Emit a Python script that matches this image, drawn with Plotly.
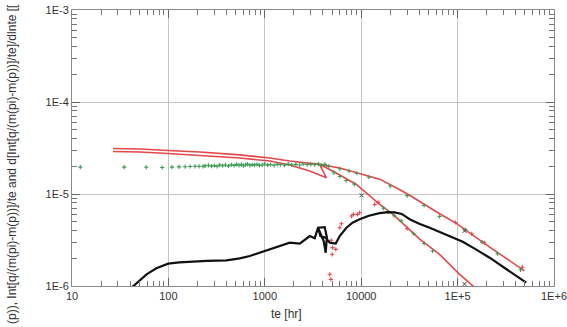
import plotly.graph_objects as go

# ---------------- data ----------------
# Normalized rate q/(m(pi)-m(p)) (black line)
rate_te = [42, 50, 59.4, 75, 99.5, 130, 181, 250, 401, 550, 700, 887, 1200, 1500, 1815, 2305, 2925,
           3296, 3565, 4185, 4424, 3778, 3565,
           4083, 4285, 4385, 4720, 5445, 5990, 7025, 8200, 9640, 12000, 15550, 19000, 22240, 26300,
           31840, 40000, 51300, 70000, 97000, 113000, 150000, 215000, 300000, 400000, 515000]
rate_val = [0.97e-6, 1.15e-6, 1.34e-6, 1.56e-6, 1.75e-6, 1.81e-6, 1.85e-6, 1.88e-6, 1.90e-6, 2.0e-6,
            2.12e-6, 2.30e-6, 2.55e-6, 2.78e-6, 2.96e-6, 2.89e-6, 3.49e-6,
            3.30e-6, 4.30e-6, 4.37e-6, 3.30e-6, 3.49e-6, 4.30e-6,
            3.08e-6, 2.30e-6, 3.24e-6, 2.96e-6, 2.89e-6, 3.49e-6, 4.30e-6, 4.9e-6, 5.31e-6, 5.8e-6,
            6.2e-6, 6.35e-6, 6.30e-6, 6.07e-6,
            5.31e-6, 4.75e-6, 4.30e-6, 3.75e-6, 3.22e-6, 3.02e-6, 2.55e-6, 2.03e-6, 1.6e-6, 1.3e-6, 1.09e-6]

# Rate integral Int[q/(m(pi)-m(p))]/te (red, upper)
int_te = [26.6, 50.7, 98.9, 212, 551, 1127, 1815, 3715, 5990, 8910, 15550, 22240, 31840, 65000,
          97000, 215000, 494000]
int_val = [3.12e-5, 3.08e-5, 2.97e-5, 2.86e-5, 2.66e-5, 2.46e-5, 2.28e-5, 2.10e-5, 1.92e-5, 1.71e-5,
           1.45e-5, 1.19e-5, 9.7e-6, 6.1e-6, 4.8e-6, 2.65e-6, 1.46e-6]

# Rate integral derivative (red, lower)
der_te = [26.6, 50.7, 98.9, 212, 551, 1127, 1815, 2925, 4355, 3715, 5070, 8910, 15550, 21400,
          40400, 65000, 105000, 153000]
der_val = [2.90e-5, 2.86e-5, 2.76e-5, 2.62e-5, 2.46e-5, 2.28e-5, 2.07e-5, 1.78e-5, 1.50e-5, 2.09e-5,
           1.78e-5, 1.27e-5, 7.7e-6, 6.0e-6, 3.24e-6, 2.21e-6, 1.34e-6, 0.95e-6]

# Green data points
green_te = [12.2, 34.8, 58.9, 86.3, 109, 129, 149, 168, 189, 208, 229,
            240, 260, 280, 300, 320, 340, 365, 390, 420, 450, 480, 510, 540, 570, 600, 630,
            660, 700, 740, 780, 830, 880, 940, 1000, 1070, 1150, 1250, 1350, 1450, 1600, 1750,
            1900, 2100, 2300, 2500, 2750, 3000, 3300, 3600, 3900, 4200, 4600,
            6000, 7500, 9000, 12000, 20000, 30000, 45000, 65000, 120000, 180000, 260000, 450000,
            5200, 6000, 7000, 8500, 17000, 19000, 22000, 26000, 35000, 45000, 55000]
green_val = [1.96e-5, 1.96e-5, 1.95e-5, 1.94e-5, 1.96e-5, 1.97e-5, 1.98e-5, 1.99e-5, 2.0e-5, 2.0e-5, 2.0e-5,
             2.02e-5, 2.05e-5, 2.01e-5, 2.04e-5, 2.0e-5, 2.06e-5, 2.03e-5, 2.07e-5, 2.02e-5, 2.08e-5,
             2.04e-5, 2.1e-5, 2.05e-5, 2.09e-5, 2.03e-5, 2.07e-5, 2.11e-5, 2.05e-5, 2.08e-5, 2.06e-5,
             2.1e-5, 2.04e-5, 2.07e-5, 2.12e-5, 2.06e-5, 2.09e-5, 2.05e-5, 2.1e-5, 2.08e-5, 2.06e-5,
             2.11e-5, 2.08e-5, 2.1e-5, 2.07e-5, 2.12e-5, 2.09e-5, 2.1e-5, 2.08e-5, 2.12e-5, 2.05e-5,
             2.1e-5, 2.0e-5,
             1.88e-5, 1.78e-5, 1.68e-5, 1.52e-5, 1.22e-5, 9.6e-6, 7.5e-6, 5.7e-6, 4.1e-6, 3.0e-6,
             2.25e-6, 1.5e-6,
             1.7e-5, 1.55e-5, 1.4e-5, 1.28e-5, 7.0e-6, 6.4e-6, 5.8e-6, 5.1e-6, 3.7e-6, 2.9e-6, 2.4e-6]

# Red data points
red_te = [4890, 5040, 5000, 4720, 4840, 5450, 5990, 6230, 7940, 8300, 9150, 9640, 13800,
          95000, 140000, 190000, 470000, 15000, 30000]
red_val = [3.14e-6, 2.61e-6, 2.21e-6, 1.34e-6, 1.18e-6, 2.5e-6, 4.3e-6, 4.75e-6, 5.76e-6, 6.0e-6,
           6.0e-6, 6.26e-6, 7.7e-6,
           4.9e-6, 3.7e-6, 2.95e-6, 1.6e-6, 8.1e-6, 4.2e-6]

# Dark data points
dark_te = [10100, 118000, 118000]
dark_val = [9.7e-6, 3.97e-6, 1.05e-6]

x_tickvals = [10, 100, 1000, 10000, 1e5, 1e6]
x_ticktext = ["10", "100", "1000", "10000", "1E+5", "1E+6"]
y_tickvals = [1e-6, 1e-5, 1e-4, 1e-3]
y_ticktext = ["1E-6", "1E-5", "1E-4", "1E-3"]
x_minor = [m * 10 ** k for k in range(1, 6) for m in range(2, 10)]
y_minor = [m * 10.0 ** k for k in range(-6, -3) for m in range(2, 10)]

RED = "#e5474b"
GREEN = "#3e9a55"

fig = go.Figure()
fig.add_trace(go.Scatter(x=int_te, y=int_val, mode="lines", line=dict(color=RED, width=1.6)))
fig.add_trace(go.Scatter(x=der_te, y=der_val, mode="lines", line=dict(color=RED, width=1.6)))
fig.add_trace(go.Scatter(x=green_te, y=green_val, mode="markers",
                         marker=dict(symbol="cross-thin-open", size=3, color=GREEN,
                                     line=dict(color=GREEN, width=1.1))))
fig.add_trace(go.Scatter(x=red_te, y=red_val, mode="markers",
                         marker=dict(symbol="cross-thin-open", size=3, color=RED,
                                     line=dict(color=RED, width=1.1))))
fig.add_trace(go.Scatter(x=dark_te, y=dark_val, mode="markers",
                         marker=dict(symbol="x-thin-open", size=4, color="#444",
                                     line=dict(color="#444", width=1))))
fig.add_trace(go.Scatter(x=rate_te, y=rate_val, mode="lines", line=dict(color="#111111", width=2.2)))

axis_common = dict(
    type="log", showgrid=True, gridcolor="#c4c4c4", gridwidth=1, automargin=False,
    showline=True, linecolor="#8a8a8a", linewidth=1, mirror="allticks",
    ticks="inside", ticklen=8, tickcolor="#666", zeroline=False, ticklabeloverflow="allow",
    tickfont=dict(family="Liberation Sans, Arial, sans-serif", size=11, color="#333"),
)

fig.update_xaxes(range=[1, 6], tickvals=x_tickvals, ticktext=x_ticktext,
                 minor=dict(ticks="inside", ticklen=5, tickcolor="#777", showgrid=False, tickvals=x_minor),
                 **axis_common)
fig.update_yaxes(range=[-6, -3], tickvals=y_tickvals, ticktext=y_ticktext,
                 minor=dict(ticks="inside", ticklen=5, tickcolor="#777", showgrid=False, tickvals=y_minor),
                 **axis_common)

fig.update_layout(
    width=567, height=327,
    margin=dict(l=72, r=13, t=10, b=41, autoexpand=False),
    paper_bgcolor="white", plot_bgcolor="white",
    showlegend=False,
    annotations=[
        dict(text="te [hr]", xref="paper", yref="paper", x=0.446, y=-0.068,
             xanchor="center", yanchor="top", showarrow=False,
             font=dict(family="Liberation Sans, Arial, sans-serif", size=12, color="#333")),
        dict(text="(p)), Int[q/(m(pi)-m(p))]/te and d[Int[q/(m(pi)-m(p))]/te]/dlnte [[",
             xref="paper", yref="paper", x=-0.1245, y=0.442, xanchor="center", yanchor="middle",
             textangle=-90, showarrow=False,
             font=dict(family="Liberation Sans, Arial, sans-serif", size=12, color="#333")),
    ],
)

fig.write_html("out.html", config={"displayModeBar": False},
               post_script="document.body.style.margin='0';")
